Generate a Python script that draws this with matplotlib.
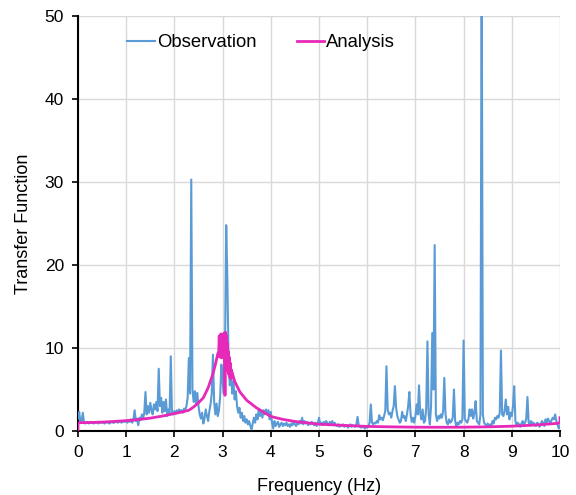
import matplotlib
matplotlib.use("Agg")
import matplotlib.pyplot as plt
import numpy as np

plt.rcParams['font.family'] = ['Liberation Sans', 'DejaVu Sans']

# observed transfer function, sampled every 0.025 Hz from 0 to 10 Hz
obs_freq = np.linspace(0.0, 10.0, 401)
obs_vals = [
    1.5, 2.3, 1.0, 1.2, 2.2, 1.0, 0.9, 1.0,
    1.1, 0.9, 1.0, 1.1, 1.0, 0.9, 1.0, 1.1,
    1.0, 0.9, 1.1, 1.0, 1.0, 1.1, 0.9, 1.0,
    1.1, 1.0, 0.9, 1.0, 1.1, 1.0, 1.0, 1.1,
    1.2, 1.0, 1.1, 1.2, 1.0, 1.1, 1.2, 1.1,
    # 1 Hz
    1.2, 1.0, 1.3, 1.1, 1.4, 1.0, 1.3, 2.5,
    1.2, 1.5, 0.7, 1.6, 1.3, 2.0, 1.5, 2.2,
    4.7, 2.0, 3.0, 2.2, 3.4, 2.5, 2.0, 3.2,
    2.6, 3.5, 2.4, 7.5, 3.0, 4.0, 2.2, 3.5,
    2.4, 3.8, 1.8, 2.6, 2.0, 9.0, 2.3, 2.0,
    # 2 Hz
    2.4, 2.1, 2.5, 2.2, 2.6, 2.3, 2.5, 2.2,
    2.7, 2.5, 3.0, 4.0, 8.8, 4.5, 30.3, 5.0,
    3.5, 4.8, 3.2, 4.6, 3.0, 2.0, 1.5, 2.2,
    0.9, 1.5, 2.6, 1.8, 1.2, 2.4, 3.2, 4.5,
    9.2, 3.5, 2.0, 3.3, 1.8, 2.5, 4.2, 8.0,
    # 3 Hz
    6.0, 4.5, 9.5, 24.8, 18.0, 8.0, 5.5, 7.0,
    4.5, 6.0, 3.8, 4.8, 3.0, 2.2, 2.8, 1.6,
    2.2, 1.2, 1.8, 1.0, 1.4, 0.8, 1.2, 0.6,
    0.2, 0.9, 1.6, 1.0, 2.0, 1.4, 2.6, 1.8,
    2.4, 1.6, 2.5, 2.0, 2.6, 2.2, 2.5, 1.4,
    # 4 Hz
    2.3, 1.0, 0.3, 1.2, 0.6, 0.9, 1.1, 0.5,
    0.8, 1.0, 0.6, 0.9, 0.7, 1.0, 0.6, 0.8,
    0.5, 0.9, 0.7, 1.1, 0.8, 0.6, 1.0, 0.8,
    1.2, 0.9, 1.6, 0.8, 1.2, 0.9, 1.1, 0.7,
    1.0, 0.8, 1.1, 0.9, 0.7, 1.0, 0.6, 0.9,
    # 5 Hz
    1.6, 0.8, 1.0, 0.7, 1.1, 0.8, 1.2, 0.9,
    0.7, 1.1, 0.9, 1.2, 0.8, 1.0, 0.7, 0.6,
    0.8, 0.5, 0.7, 0.6, 0.8, 0.5, 0.6, 0.7,
    0.4, 0.6, 0.8, 0.5, 0.7, 0.6, 0.5, 0.8,
    1.7, 0.6, 0.5, 0.4, 0.6, 0.5, 0.3, 0.5,
    # 6 Hz
    0.4, 0.6, 1.0, 3.2, 1.0, 0.8, 1.0, 0.9,
    1.2, 1.0, 1.9, 1.4, 1.6, 1.3, 1.8, 2.4,
    7.8, 2.6, 2.0, 2.2, 1.6, 2.4, 3.0, 5.4,
    2.8, 1.8, 1.4, 1.0, 1.2, 2.3, 1.6, 1.8,
    1.2, 2.0, 3.0, 4.7, 2.0, 1.1, 1.6, 1.0,
    # 7 Hz
    1.8, 3.2, 2.0, 5.5, 2.2, 1.4, 2.6, 1.0,
    1.2, 2.8, 10.8, 2.0, 0.8, 3.0, 11.8, 5.0,
    22.4, 2.0, 1.2, 1.8, 1.5, 2.0, 1.6, 2.4,
    6.4, 2.0, 1.0, 0.8, 1.4, 1.0, 1.2, 1.6,
    5.0, 1.2, 0.6, 1.0, 0.8, 1.2, 1.0, 1.4,
    # 8 Hz
    10.9, 1.5, 1.2, 1.0, 1.4, 2.6, 1.8, 2.6,
    1.5, 2.2, 3.6, 1.2, 1.0, 0.8, 2.0, 58.0,
    2.0, 1.0, 0.8, 0.6, 0.9, 0.5, 0.8, 0.6,
    1.2, 0.9, 1.6, 1.4, 1.8, 1.6, 2.2, 9.7,
    2.0, 1.8, 2.4, 3.8, 2.0, 2.9, 1.4, 2.2,
    # 9 Hz
    1.8, 3.0, 5.4, 1.2, 0.6, 1.0, 0.8, 0.5,
    0.9, 1.2, 0.8, 1.0, 1.5, 4.1, 1.0, 0.7,
    1.2, 0.9, 1.0, 0.8, 0.6, 1.0, 0.9, 0.5,
    0.8, 1.2, 1.0, 0.6, 1.4, 1.0, 1.5, 1.2,
    0.9, 1.3, 1.6, 1.4, 2.0, 1.2, 0.8, 0.3,
    0.6,
]

# analytical transfer function
ana_freq = [
    0.0, 0.0, 0.25, 0.5, 0.75, 1.0, 1.25, 1.5, 1.75, 2.0, 2.2, 2.3, 2.4,
    2.5, 2.6, 2.7, 2.8, 2.85, 2.9, 2.92, 2.93, 2.94, 2.95, 2.96, 2.97,
    2.98, 2.99, 3.0, 3.01, 3.02, 3.03, 3.04, 3.05, 3.06, 3.07, 3.08,
    3.09, 3.1, 3.11, 3.12, 3.13, 3.14, 3.15, 3.16, 3.17, 3.18, 3.2,
    3.25, 3.3, 3.36, 3.5, 3.7, 4.0, 4.25, 4.5, 5.0, 5.5, 6.0, 6.5,
    7.0, 7.5, 8.0, 8.5, 9.0, 9.5, 9.9, 10.0, 10.0,
]
ana_vals = [
    0.0, 1.0, 1.02, 1.07, 1.15, 1.25, 1.38, 1.55, 1.8, 2.1, 2.35, 2.5, 2.9,
    3.4, 4.0, 5.2, 6.9, 8.0, 9.3, 9.6, 11.4, 8.9, 11.6, 9.2, 11.7,
    8.8, 11.3, 9.4, 11.6, 8.9, 11.8, 9.1, 4.3, 11.9, 8.6, 11.5,
    7.9, 10.6, 7.2, 9.6, 6.8, 8.9, 6.5, 8.2, 6.3, 7.4, 7.0,
    6.0, 5.4, 4.7, 3.7, 2.8, 1.75, 1.4, 1.15, 0.82, 0.68, 0.55, 0.5,
    0.46, 0.45, 0.46, 0.5, 0.58, 0.72, 0.9, 0.95, 1.6,
]

fig = plt.figure(figsize=(5.76, 4.95), dpi=100)
ax = fig.add_axes([0.1354, 0.1293, 0.8368, 0.8384])

ax.plot(obs_freq, obs_vals, color='#5B9BD5', lw=1.5, label='Observation', zorder=3)
ax.plot(ana_freq, ana_vals, color='#E629B8', lw=2.0, label='Analysis', zorder=4)

ax.set_xlim(0, 10)
ax.set_ylim(0, 50)
ax.set_xticks(range(0, 11))
ax.set_yticks(range(0, 51, 10))
ax.grid(True, color='#D9D9D9', lw=1.0)
ax.set_axisbelow(True)

for side in ('top', 'right'):
    ax.spines[side].set_visible(False)
for side in ('left', 'bottom'):
    ax.spines[side].set_color('black')
    ax.spines[side].set_linewidth(1.5)

ax.tick_params(direction='out', length=4, width=1.2, color='black',
               labelsize=12.5, pad=6)

ax.set_xlabel('Frequency (Hz)', fontsize=13, labelpad=13)
ax.set_ylabel('Transfer Function', fontsize=13, labelpad=9)

ax.legend(loc='center', bbox_to_anchor=(0.38, 0.935), ncol=2, frameon=False,
          fontsize=13.3, handlelength=1.5, handletextpad=0.1, columnspacing=2.2)

fig.savefig('out.png', dpi=100)
